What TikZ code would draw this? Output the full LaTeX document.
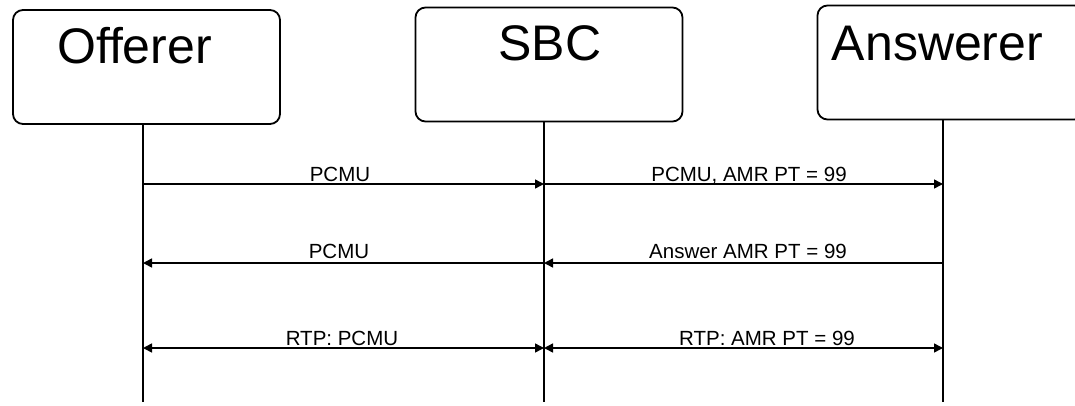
\documentclass[tikz,border=0pt]{standalone}
\usepackage{fontspec}
\setmainfont{Liberation Sans}
\usetikzlibrary{arrows.meta}
\begin{document}
\begin{tikzpicture}[x=1pt,y=-1pt,
  actorbox/.style={draw, line width=1.8pt, rounded corners=10pt, minimum width=267pt, minimum height=114pt, inner sep=0pt},
  actortext/.style={anchor=base, inner sep=0pt, font=\fontsize{50}{60}\selectfont},
  life/.style={line width=1.5pt},
  msg/.style={line width=1.5pt, -{Triangle[length=9pt,width=9pt]}},
  bimsg/.style={line width=1.5pt, {Triangle[length=9pt,width=9pt]}-{Triangle[length=9pt,width=9pt]}},
  lbl/.style={anchor=base, inner sep=0pt, font=\fontsize{20.5}{24}\selectfont}]
\path[use as bounding box] (0,0) rectangle (1075,405);
\clip (0,0) rectangle (1075,405);
% boxes
\node[actorbox] (offbox) at (146.5,67) {};
\node[actorbox] (sbcbox) at (549,64.5) {};
\node[actorbox] (ansbox) at (951,62.5) {};
\node[actortext] (offtxt) at (134.5,63) {Offerer};
\node[actortext] (sbctxt) at (550,60) {SBC};
\node[actortext] (anstxt) at (937.5,60) {Answerer};
% lifeline coordinates
\coordinate (ot) at (143,124);
\coordinate (st) at (544,122);
\coordinate (at) at (943,120);
\coordinate (ob) at (143,402);
\coordinate (sb) at (544,402);
\coordinate (ab) at (943,402);
\draw[life] (ot) -- (ob);
\draw[life] (st) -- (sb);
\draw[life] (at) -- (ab);
% message coordinates
\coordinate (o1) at (143,184); \coordinate (s1) at (544,184); \coordinate (a1) at (943,184);
\coordinate (o2) at (143,263); \coordinate (s2) at (544,263); \coordinate (a2) at (943,263);
\coordinate (o3) at (143,348); \coordinate (s3) at (544,348); \coordinate (a3) at (943,348);
\draw[msg] (o1) -- (s1);
\draw[msg] (s1) -- (a1);
\draw[msg] (s2) -- (o2);
\draw[msg] (a2) -- (s2);
\draw[bimsg] (o3) -- (s3);
\draw[bimsg] (s3) -- (a3);
% labels
\node[lbl] (l1) at (340,181) {PCMU};
\node[lbl] (l2) at (749,181) {PCMU, AMR PT = 99};
\node[lbl] (l3) at (339,258) {PCMU};
\node[lbl] (l4) at (748,258) {Answer AMR PT = 99};
\node[lbl] (l5) at (342,345) {RTP: PCMU};
\node[lbl] (l6) at (767,345) {RTP: AMR PT = 99};
\end{tikzpicture}
\end{document}
